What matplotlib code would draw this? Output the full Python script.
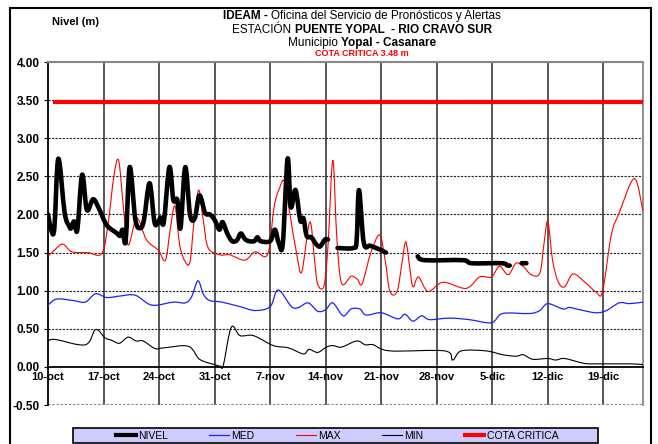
import numpy as np
import matplotlib
matplotlib.use('Agg')
import matplotlib.pyplot as plt
from matplotlib.patches import Rectangle, PathPatch
from matplotlib.path import Path
from matplotlib.lines import Line2D

plt.rcParams['font.family'] = ['Liberation Sans', 'DejaVu Sans']

# dias contados desde el 10-oct
semanas = [0, 7, 14, 21, 28, 35, 42, 49, 56, 63, 70]
etiquetas = ['10-oct', '17-oct', '24-oct', '31-oct', '7-nov', '14-nov',
             '21-nov', '28-nov', '5-dic', '12-dic', '19-dic']

# NIVEL observado (nan = sin dato)
nivel_dias = [0, 0.4, 0.8, 1.3, 2.1, 2.7, 2.9, 3.3, 3.7, 4.3, 4.9, 5.7, 6.5, 7.4,
              8.6, 9.1, 9.4, 9.8, 10.3, 11.0, 11.6, 12.1, 12.8, 13.4, 13.8, 14.2,
              14.6, 15.3, 15.8, 16.3, 16.7, 17.3, 17.9, 18.5, 19.1, 19.8, 20.4,
              21.0, 21.6, 22.0, 22.6, 23.2, 23.8, 24.3, 24.8, 25.3, 26.0, 26.4,
              26.8, 28.0, 28.6, 29.1, 29.6, 30.2, 30.6, 31.2, 31.8, 32.2, 32.6,
              33.2, 33.8, 34.3, 34.9, 35.3, 35.9, 36.5, 38.5, 38.9, 39.2, 39.8,
              40.6, 41.6, 42.6, 44.6, 46.6, 47.5, 52.3, 53.4, 57.2, 57.9, 58.2,
              59.0, 59.7, 60.3]
nivel = [2.00, 1.80, 1.82, 2.73, 2.02, 1.84, 1.82, 1.91, 1.80, 2.52, 2.06, 2.20,
         2.06, 1.86, 1.76, 1.72, 1.80, 1.66, 2.62, 1.94, 1.82, 1.93, 2.41, 1.91,
         1.88, 1.96, 1.90, 2.62, 2.19, 2.19, 1.82, 2.62, 2.00, 1.95, 2.25, 2.02,
         2.00, 1.93, 1.80, 1.90, 1.75, 1.65, 1.66, 1.75, 1.68, 1.65, 1.65, 1.70,
         1.65, 1.65, 1.80, 1.62, 1.62, 2.73, 2.10, 2.32, 1.92, 1.95, 1.72, 1.70,
         1.61, 1.58, 1.67, 1.67, np.nan, 1.56, 1.56, 1.66, 2.32, 1.63, 1.59, 1.55,
         1.50, np.nan, 1.45, 1.40, 1.40, 1.36, 1.36, 1.33, 1.33, np.nan, 1.36, 1.36]

# MED
med_dias = [0, 1.1, 3.2, 4.7, 6.0, 7.4, 9.1, 11.0, 13.1, 15.8, 17.3, 18.1, 18.9,
            19.6, 20.4, 21.9, 24.2, 26.1, 28.0, 29.0, 30.7, 31.6, 32.8, 34.0,
            35.0, 35.9, 37.2, 38.2, 39.3, 40.1, 42.0, 44.1, 45.0, 46.0, 47.1,
            48.1, 50.6, 53.1, 55.9, 57.3, 60.7, 62.0, 63.0, 64.9, 65.7, 67.0,
            69.1, 70.4, 72.0, 73.3, 75.0]
med = [0.81, 0.89, 0.87, 0.85, 0.96, 0.91, 0.93, 0.94, 0.81, 0.85, 0.84, 0.92,
       1.13, 0.95, 0.87, 0.85, 0.79, 0.74, 0.79, 1.01, 0.79, 0.78, 0.84, 0.73,
       0.75, 0.84, 0.67, 0.76, 0.76, 0.68, 0.71, 0.63, 0.69, 0.60, 0.67, 0.62,
       0.64, 0.62, 0.58, 0.70, 0.70, 0.74, 0.83, 0.76, 0.78, 0.75, 0.71, 0.74,
       0.84, 0.83, 0.85]

# MAX
max_dias = [0, 1.0, 1.9, 3.0, 5.0, 6.8, 7.6, 8.3, 8.9, 9.5, 10.1, 11.2, 12.4,
            13.9, 14.8, 15.4, 16.0, 16.6, 17.3, 17.9, 18.4, 19.0, 19.6, 20.2,
            21.7, 22.9, 24.8, 26.1, 27.7, 28.5, 29.2, 29.8, 30.5, 31.4, 32.0,
            33.0, 33.6, 34.0, 34.8, 35.3, 35.9, 36.4, 37.0, 38.2, 39.0, 39.6,
            40.7, 41.8, 42.5, 43.1, 44.0, 44.6, 45.1, 45.6, 46.0, 46.7, 47.9,
            49.8, 52.7, 54.4, 55.9, 56.9, 58.0, 59.0, 59.9, 60.9, 62.0, 62.5,
            63.0, 63.6, 64.3, 65.1, 66.2, 67.8, 69.1, 69.9, 71.0, 72.0, 73.9, 75.0]
maximo = [1.45, 1.55, 1.61, 1.51, 1.50, 1.49, 1.90, 2.50, 2.71, 2.10, 1.60, 1.95,
          1.67, 1.53, 1.40, 1.80, 2.11, 1.60, 1.38, 1.38, 1.90, 2.32, 1.90, 1.56,
          1.47, 1.47, 1.40, 1.51, 1.48, 2.10, 2.35, 2.43, 2.00, 1.45, 1.25, 1.90,
          1.40, 1.08, 1.07, 1.60, 2.71, 1.70, 1.10, 1.19, 1.15, 1.09, 1.50, 1.73,
          1.40, 0.99, 0.99, 1.35, 1.64, 1.30, 1.05, 1.18, 0.99, 1.11, 1.03, 1.18,
          1.18, 1.32, 1.21, 1.36, 1.32, 1.21, 1.23, 1.60, 1.91, 1.40, 1.12, 1.05,
          1.22, 1.10, 0.98, 0.99, 1.73, 2.02, 2.47, 2.04]

# MIN
min_dias = [0, 0.9, 4.7, 6.0, 7.2, 8.0, 9.0, 10.1, 11.1, 12.0, 13.5, 14.6, 17.7,
            19.1, 21.0, 21.7, 22.1, 23.1, 24.2, 25.9, 28.4, 30.3, 32.2, 32.9,
            34.0, 35.1, 35.9, 37.0, 38.9, 40.0, 41.0, 43.1, 50.0, 51.0, 52.1,
            55.2, 57.3, 59.0, 59.9, 61.1, 63.0, 64.0, 65.1, 67.4, 68.7, 73.3, 75.0]
minimo = [0.34, 0.36, 0.29, 0.49, 0.38, 0.35, 0.31, 0.39, 0.34, 0.34, 0.24, 0.25,
          0.27, 0.10, 0.03, 0.01, 0.02, 0.52, 0.41, 0.41, 0.28, 0.25, 0.17, 0.23,
          0.19, 0.26, 0.28, 0.26, 0.34, 0.29, 0.29, 0.21, 0.21, 0.09, 0.21, 0.21,
          0.16, 0.14, 0.16, 0.10, 0.11, 0.09, 0.11, 0.05, 0.04, 0.04, 0.03]

cota_dias = [0.9, 75]
cota = [3.48, 3.48]

W, H = 658, 444
fig = plt.figure(figsize=(W / 100, H / 100), dpi=100)
ax = fig.add_axes([48 / W, 1 - 405 / H, (643 - 48) / W, (405 - 62) / H])


def curva(ax, xs, ys, **kw):
    # linea suavizada tipo Excel (bezier por los puntos leidos)
    xs = np.asarray(xs, float)
    ys = np.asarray(ys, float)
    cortes = np.where(np.isnan(ys))[0]
    inicio = 0
    for fin in list(cortes) + [len(ys)]:
        pts = np.column_stack([xs[inicio:fin], ys[inicio:fin]])
        inicio = fin + 1
        if len(pts) < 2:
            continue
        verts = [pts[0]]
        codes = [Path.MOVETO]
        for i in range(len(pts) - 1):
            p0 = pts[i - 1] if i > 0 else pts[i]
            p1, p2 = pts[i], pts[i + 1]
            p3 = pts[i + 2] if i + 2 < len(pts) else pts[i + 1]
            verts += [p1 + (p2 - p0) / 6, p2 - (p3 - p1) / 6, p2]
            codes += [Path.CURVE4] * 3
        ax.add_patch(PathPatch(Path(verts, codes), fill=False, **kw))


# rejilla
for d in semanas[1:]:
    ax.axvline(d, color='#3a3a3a', lw=1.2, zorder=1)
for yv in np.arange(0.5, 3.6, 0.5):
    ax.axhline(yv, color='#222222', lw=0.8, ls=(0, (2, 1.2)), zorder=1)
ax.axhline(-0.5, color='#888888', lw=1.5, ls=(0, (1.2, 0.8)), zorder=1)

curva(ax, min_dias, minimo, ec='black', lw=0.8, zorder=3)
curva(ax, med_dias, med, ec='#1f1fff', lw=0.9, zorder=3)
curva(ax, max_dias, maximo, ec='red', lw=0.8, zorder=3)
curva(ax, nivel_dias, nivel, ec='black', lw=3.3, zorder=4, capstyle='round', joinstyle='round')
ax.plot(cota_dias, cota, color='red', lw=3, zorder=5)

ax.set_xlim(0, 75)
ax.set_ylim(-0.5, 4.0)
ax.spines['bottom'].set_position(('data', 0))
ax.spines['bottom'].set_linewidth(1.3)
ax.spines['left'].set_linewidth(1.3)
ax.spines['top'].set_color('#888888')
ax.spines['top'].set_linestyle((0, (1.2, 0.8)))
ax.spines['top'].set_linewidth(1.5)
ax.spines['right'].set_color('#888888')
ax.spines['right'].set_linewidth(1.3)

ax.set_xticks(semanas)
ax.set_xticklabels(etiquetas, fontweight='bold', fontsize=8)
ax.tick_params(axis='x', length=0, pad=4)
yt = np.arange(-0.5, 4.01, 0.5)
ax.set_yticks(yt)
ax.set_yticklabels([f'{v:.2f}' for v in yt], fontweight='bold', fontsize=8.5)
ax.tick_params(axis='y', length=3, pad=3)

# titulos
renderer = fig.canvas.get_renderer()


def ancho(s, size, bold=False):
    t = fig.text(0, 0, s, fontsize=size, fontweight='bold' if bold else 'normal')
    w = t.get_window_extent(renderer).width
    t.remove()
    return w


def linea_mixta(y_px, partes, size, color='black', cx=362):
    esp = ancho('a a', size) - ancho('aa', size)
    anchos = [ancho(s, size, b) for s, b in partes]
    x = cx - (sum(anchos) + esp * (len(partes) - 1)) / 2
    for (s, b), w in zip(partes, anchos):
        fig.text(x / W, 1 - y_px / H, s, fontsize=size, color=color,
                 fontweight='bold' if b else 'normal', va='center', ha='left')
        x += w + esp


linea_mixta(16, [('IDEAM -', True), ('Oficina del Servicio de Pronósticos y Alertas', False)], 8.5)
linea_mixta(30, [('ESTACIÓN', False), ('PUENTE YOPAL  - RIO CRAVO SUR', True)], 8.5)
linea_mixta(43, [('Municipio', False), ('Yopal - Casanare', True)], 8.5)
linea_mixta(54, [('COTA CRÍTICA 3.48 m', True)], 6.5, color='red')
fig.text(75 / W, 1 - 22 / H, 'Nivel (m)', fontsize=8, fontweight='bold', ha='center', va='center')

# marco exterior
fig.add_artist(Rectangle((10 / W, -0.05), (651 - 10) / W, 1 - 8 / H + 0.05,
                         transform=fig.transFigure, fill=False, ec='black', lw=1.5))

# caja de la leyenda
fig.add_artist(Rectangle((73 / W, 1 - 443 / H), 525 / W, 15 / H, transform=fig.transFigure,
                         fc='#ccccff', ec='black', lw=1.2))
manejadores = [Line2D([], [], color='black', lw=3),
               Line2D([], [], color='#1f1fff', lw=0.9),
               Line2D([], [], color='red', lw=0.8),
               Line2D([], [], color='black', lw=0.8),
               Line2D([], [], color='red', lw=3)]
nombres = ['NIVEL', 'MED', 'MAX', 'MIN', 'COTA CRITICA']
leg = fig.legend(manejadores, nombres, loc='center',
                 bbox_to_anchor=(337 / W, 1 - 435.5 / H), ncol=5, frameon=False,
                 fontsize=7.5, handlelength=1.9, handletextpad=0.2,
                 columnspacing=4.0, borderpad=0, borderaxespad=0)

fig.savefig('out.png', dpi=100)
